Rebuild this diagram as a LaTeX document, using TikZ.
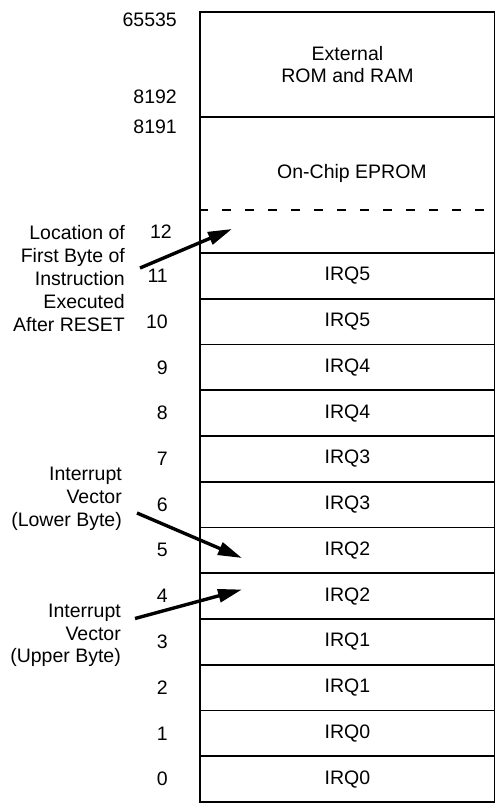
\documentclass[tikz,border=0pt]{standalone}
\usepackage{fontspec}
\setmainfont{Liberation Sans}
\usetikzlibrary{arrows.meta}
\begin{document}
\begin{tikzpicture}[x=1pt,y=-1pt,
  txt/.style={font=\fontsize{19.5}{22.8}\selectfont, inner sep=0pt},
  cell/.style={draw, line width=1.8pt, minimum width=295pt, minimum height=45.75pt, inner sep=0pt, font=\fontsize{19.5}{22.8}\selectfont},
  addr/.style={txt, anchor=east},
  note/.style={txt, align=right, anchor=east},
  ptr/.style={line width=3.4pt, -{Triangle[length=24pt,width=13pt]}}]
\useasboundingbox (0,0) rectangle (495,803);
% top regions
\node[cell, minimum height=105pt, align=center] (ext) at (347.5,64.5) {External\\ROM and RAM};
\node[cell, minimum height=136pt] (eprom) at (347.5,185) {};
\node[txt] (eptxt) at (352,173) {On-Chip EPROM};
\draw[line width=1.8pt, dash pattern=on 9pt off 14pt] (eprom.west |- 0,210) -- (eprom.east |- 0,210);
% vector rows
\foreach \i in {0,...,11} {
  \pgfmathtruncatemacro\q{\i/2}
  \pgfmathsetmacro\yc{253+(11-\i)*45.75+22.875}
  \node[cell] (r\i) at (347.5,\yc) {IRQ\q};
  \node[addr] (a\i) at (168,\yc) {\i};
}
% addresses
\node[addr] (a65535) at (177,20) {65535};
\node[addr] (a8192) at (177,97) {8192};
\node[addr] (a8191) at (177,127) {8191};
\node[addr] (a12) at (172,232) {12};
% notes
\node[note] (n1) at (125,278.5) {Location of\\First Byte of\\Instruction\\Executed\\After RESET};
\node[note] (n2) at (122,499) {Interrupt\\Vector\\(Lower Byte)};
\node[note] (n3) at (121,635.5) {Interrupt\\Vector\\(Upper Byte)};
% arrows
\coordinate (t1) at (140,268); \coordinate (h1) at (232,229);
\coordinate (t2) at (137,513); \coordinate (h2) at (242,558);
\coordinate (t3) at (135,618.5); \coordinate (h3) at (242,589.5);
\draw[ptr] (t1) -- (h1);
\draw[ptr] (t2) -- (h2);
\draw[ptr] (t3) -- (h3);
\end{tikzpicture}
\end{document}
